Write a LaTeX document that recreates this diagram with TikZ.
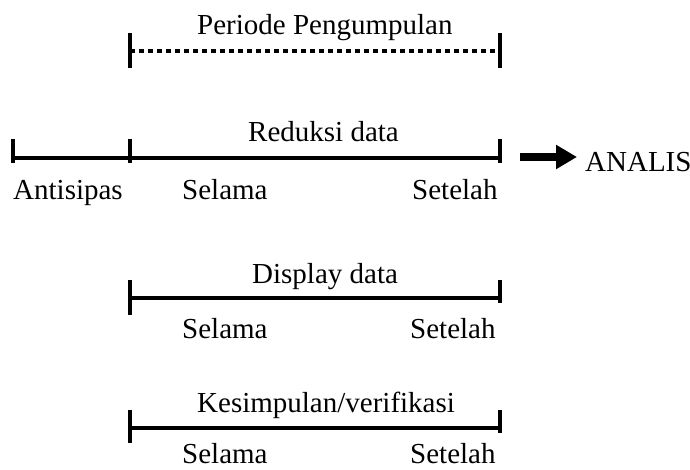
\documentclass[tikz,border=0pt]{standalone}
\usepackage{fontspec}
\setmainfont{Liberation Serif}
\usetikzlibrary{arrows.meta}
\begin{document}
\begin{tikzpicture}[x=1pt,y=-1pt,
  lbl/.style={anchor=base west,inner sep=0pt,font=\fontsize{29}{34}\selectfont},
  bar/.style={line width=4pt},
  dotline/.style={line width=4pt,dash pattern=on 5pt off 4pt},
  bigarrow/.style={line width=8pt,-{Triangle[length=21pt,width=23pt]}}]
\useasboundingbox (0,0) rectangle (690,470);
% Periode Pengumpulan
\node[lbl] (pp) at (197,35) {Periode Pengumpulan};
\coordinate (p1) at (130,51); \coordinate (p2) at (500,51);
\coordinate (p1t) at (130,33); \coordinate (p1b) at (130,68);
\coordinate (p2t) at (500,33); \coordinate (p2b) at (500,68);
\draw[dotline] (p1) -- (p2);
\draw[bar] (p1t) -- (p1b);
\draw[bar] (p2t) -- (p2b);
% Reduksi data
\node[lbl] (rd) at (248,142) {Reduksi data};
\coordinate (r0) at (13,158); \coordinate (r1) at (130,158); \coordinate (r2) at (500,158);
\coordinate (r0t) at (13,139); \coordinate (r0b) at (13,163);
\coordinate (r1t) at (130,139); \coordinate (r1b) at (130,163);
\coordinate (r2t) at (500,139); \coordinate (r2b) at (500,163);
\draw[bar] (r0) -- (r2);
\draw[bar] (r0t) -- (r0b);
\draw[bar] (r1t) -- (r1b);
\draw[bar] (r2t) -- (r2b);
\node[lbl] (ra) at (13,200) {Antisipas};
\node[lbl] (rs) at (182,200) {Selama};
\node[lbl] (rt) at (412,200) {Setelah};
% arrow and ANALIS
\coordinate (a1) at (520,157); \coordinate (a2) at (577,157);
\draw[bigarrow] (a1) -- (a2);
\node[lbl] (an) at (585,172) {ANALIS};
% Display data
\node[lbl] (dd) at (252,283) {Display data};
\coordinate (d1) at (130,298); \coordinate (d2) at (500,298);
\coordinate (d1t) at (130,280); \coordinate (d1b) at (130,315);
\coordinate (d2t) at (500,280); \coordinate (d2b) at (500,303);
\draw[bar] (d1) -- (d2);
\draw[bar] (d1t) -- (d1b);
\draw[bar] (d2t) -- (d2b);
\node[lbl] (ds) at (182,338) {Selama};
\node[lbl] (dt) at (410,338) {Setelah};
% Kesimpulan/verifikasi
\node[lbl] (kv) at (197,412) {Kesimpulan/verifikasi};
\coordinate (k1) at (130,428); \coordinate (k2) at (500,428);
\coordinate (k1t) at (130,410); \coordinate (k1b) at (130,443);
\coordinate (k2t) at (500,410); \coordinate (k2b) at (500,433);
\draw[bar] (k1) -- (k2);
\draw[bar] (k1t) -- (k1b);
\draw[bar] (k2t) -- (k2b);
\node[lbl] (ks) at (182,463) {Selama};
\node[lbl] (kt) at (410,463) {Setelah};
\end{tikzpicture}
\end{document}
